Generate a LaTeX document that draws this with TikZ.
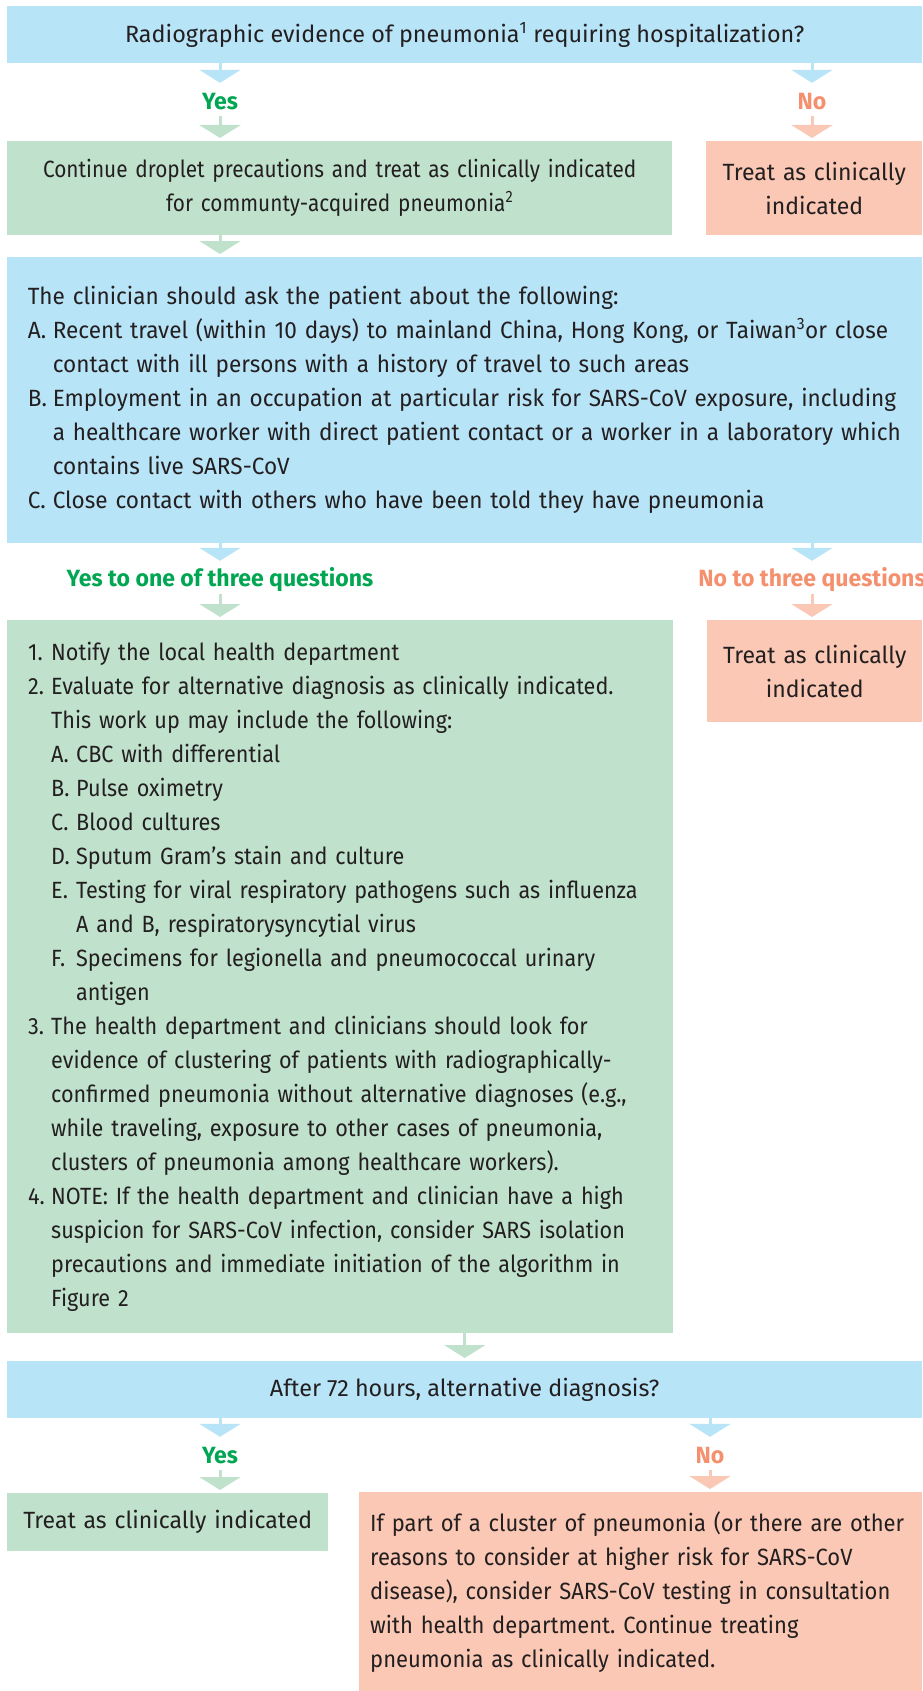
\documentclass[tikz,border=0pt]{standalone}
\usepackage{fontspec}
\setmainfont{Fira Sans}
\newfontfamily\fwide{Fira Sans}[FakeStretch=0.995]
\newfontfamily\fmid{Fira Sans}[FakeStretch=0.98]
\newfontfamily\fq{Fira Sans}[FakeStretch=0.96]
\newfontfamily\fc{Fira Sans}[FakeStretch=0.92]
\newfontfamily\fn{Fira Sans}[FakeStretch=0.935]
\newfontfamily\fe{Fira Sans}[FakeStretch=0.885]
\usetikzlibrary{arrows.meta}
\definecolor{qblue}{HTML}{B8E4F8}
\definecolor{gbox}{HTML}{C0E2CC}
\definecolor{obox}{HTML}{FAC8B4}
\definecolor{ytext}{HTML}{00A651}
\definecolor{ntext}{HTML}{F5906E}
\definecolor{txt}{HTML}{231F20}
\newcommand\lbl[2]{\makebox[#1][l]{#2}}
\frenchspacing
\begin{document}
\begin{tikzpicture}[x=1pt,y=-1pt,
  every node/.style={font=\fontsize{23.5}{34}\selectfont},
  fw/.style={font=\fontsize{23.5}{34}\fwide},
  fm/.style={font=\fontsize{23.5}{34}\fmid},
  fqs/.style={font=\fontsize{23.5}{34}\fq},
  fcs/.style={font=\fontsize{23.5}{34}\fc},
  fns/.style={font=\fontsize{23.5}{34}\fn},
  fes/.style={font=\fontsize{23.5}{34}\fe},
  box/.style={rectangle, inner sep=0pt, anchor=north west, text=txt},
  lab/.style={inner sep=0pt, minimum height=28pt, font=\fontsize{23.5}{34}\fmid\bfseries},
  arr/.style={line width=3pt, -{Triangle[width=41pt,length=13pt]}},
  barrow/.style={arr, draw=qblue},
  garrow/.style={arr, draw=gbox},
  oarrow/.style={arr, draw=obox},
  tolab/.style={shorten >=5pt},
  tobox/.style={shorten >=3pt}]
\useasboundingbox (0,0) rectangle (922,1691);
% level 1
\node[box, fw, fill=qblue, minimum width=915pt, minimum height=57pt, align=center] (q1) at (7,6)
  {Radiographic evidence of pneumonia\textsuperscript{1} requiring hospitalization?};
\node[lab, text=ytext] (yes1) at (220,102) {Yes};
\node[lab, text=ntext] (no1) at (812,102) {No};
\node[box, fes, fill=gbox, minimum width=665pt, minimum height=94pt, text width=665pt, align=center] (c1) at (7,141)
  {Continue droplet precautions and treat as clinically indicated\\for communty-acquired pneumonia\textsuperscript{2}};
\node[box, fm, fill=obox, minimum width=216pt, minimum height=94pt, text width=216pt, align=center] (n1) at (706,141)
  {Treat as clinically\\indicated};
% level 2
\node[box, fqs, fill=qblue, minimum width=915pt, minimum height=286pt, inner xsep=20.6pt, text width=873.8pt, align=left] (q2) at (7,257)
  {\mbox{The clinician should ask the patient about the following:}\\
   \mbox{\lbl{25pt}{A.}Recent travel (within 10 days) to mainland China, Hong Kong, or Taiwan\textsuperscript{3}or close}\\
   \mbox{\hspace*{25pt}contact with ill persons with a history of travel to such areas}\\
   \mbox{\lbl{25pt}{B.}Employment in an occupation at particular risk for SARS-CoV exposure, including}\\
   \mbox{\hspace*{25pt}a healthcare worker with direct patient contact or a worker in a laboratory which}\\
   \mbox{\hspace*{25pt}contains live SARS-CoV}\\
   \mbox{\lbl{25pt}{C.}Close contact with others who have been told they have pneumonia}};
\node[lab, text=ytext] (yes2) at (220,580) {Yes to one of three questions};
\node[lab, text=ntext] (no2) at (812,580) {No to three questions};
\node[box, fcs, fill=gbox, minimum width=666pt, minimum height=713pt, inner xsep=21pt, text width=624pt, align=left] (c2) at (7,620)
  {\mbox{\lbl{23pt}{1.}Notify the local health department}\\
   \mbox{\lbl{23pt}{2.}Evaluate for alternative diagnosis as clinically indicated.}\\
   \mbox{\hspace*{23pt}This work up may include the following:}\\
   \mbox{\hspace*{23pt}\lbl{25pt}{A.}CBC with differential}\\
   \mbox{\hspace*{23pt}\lbl{25pt}{B.}Pulse oximetry}\\
   \mbox{\hspace*{23pt}\lbl{25pt}{C.}Blood cultures}\\
   \mbox{\hspace*{23pt}\lbl{25pt}{D.}Sputum Gram’s stain and culture}\\
   \mbox{\hspace*{23pt}\lbl{25pt}{E.}Testing for viral respiratory pathogens such as influenza}\\
   \mbox{\hspace*{48pt}A and B, respiratorysyncytial virus}\\
   \mbox{\hspace*{23pt}\lbl{25pt}{F.}Specimens for legionella and pneumococcal urinary}\\
   \mbox{\hspace*{48pt}antigen}\\
   \mbox{\lbl{23pt}{3.}The health department and clinicians should look for}\\
   \mbox{\hspace*{23pt}evidence of clustering of patients with radiographically-}\\
   \mbox{\hspace*{23pt}confirmed pneumonia without alternative diagnoses (e.g.,}\\
   \mbox{\hspace*{23pt}while traveling, exposure to other cases of pneumonia,}\\
   \mbox{\hspace*{23pt}clusters of pneumonia among healthcare workers).}\\
   \mbox{\lbl{23pt}{4.}NOTE: If the health department and clinician have a high}\\
   \mbox{\hspace*{23pt}suspicion for SARS-CoV infection, consider SARS isolation}\\
   \mbox{\hspace*{23pt}precautions and immediate initiation of the algorithm in}\\
   \mbox{\hspace*{23pt}Figure 2}};
\node[box, fm, fill=obox, minimum width=215pt, minimum height=102pt, text width=215pt, align=center] (n2) at (707,620)
  {Treat as clinically\\indicated};
% level 3
\node[box, fw, fill=qblue, minimum width=915pt, minimum height=57pt, align=center] (q3) at (7,1361)
  {After 72 hours, alternative diagnosis?};
\node[lab, text=ytext] (yes3) at (220,1456) {Yes};
\node[lab, text=ntext] (no3) at (710,1456) {No};
\node[box, fm, fill=gbox, minimum width=321pt, minimum height=58pt, text width=321pt, align=center] (c3) at (7,1493)
  {Treat as clinically indicated};
\node[box, fns, fill=obox, minimum width=563pt, minimum height=199pt, inner xsep=11pt, text width=541pt, align=left] (n3) at (359,1492)
  {\mbox{If part of a cluster of pneumonia (or there are other}\\
   \mbox{reasons to consider at higher risk for SARS-CoV}\\
   \mbox{disease), consider SARS-CoV testing in consultation}\\
   \mbox{with health department. Continue treating}\\
   \mbox{pneumonia as clinically indicated.}};
% connectors
\draw[barrow, tolab] (q1.south -| yes1) -- (yes1.north);
\draw[barrow, tolab] (q1.south -| no1) -- (no1.north);
\draw[garrow, tobox] (yes1.south) -- (c1.north -| yes1);
\draw[oarrow, tobox] (no1.south) -- (n1.north -| no1);
\draw[garrow, tobox] (c1.south -| yes1) -- (q2.north -| yes1);
\draw[barrow, tolab] (q2.south -| yes2) -- (yes2.north);
\draw[barrow, tolab] (q2.south -| no2) -- (no2.north);
\draw[garrow, tobox] (yes2.south) -- (c2.north -| yes2);
\draw[oarrow, tobox] (no2.south) -- (n2.north -| no2);
\draw[garrow, tobox] (c2.south -| q3.north) -- (q3.north);
\draw[barrow, tolab] (q3.south -| yes3) -- (yes3.north);
\draw[barrow, tolab] (q3.south -| no3) -- (no3.north);
\draw[garrow, tobox] (yes3.south) -- (c3.north -| yes3);
\draw[oarrow, tobox] (no3.south) -- (n3.north -| no3);
\end{tikzpicture}
\end{document}
